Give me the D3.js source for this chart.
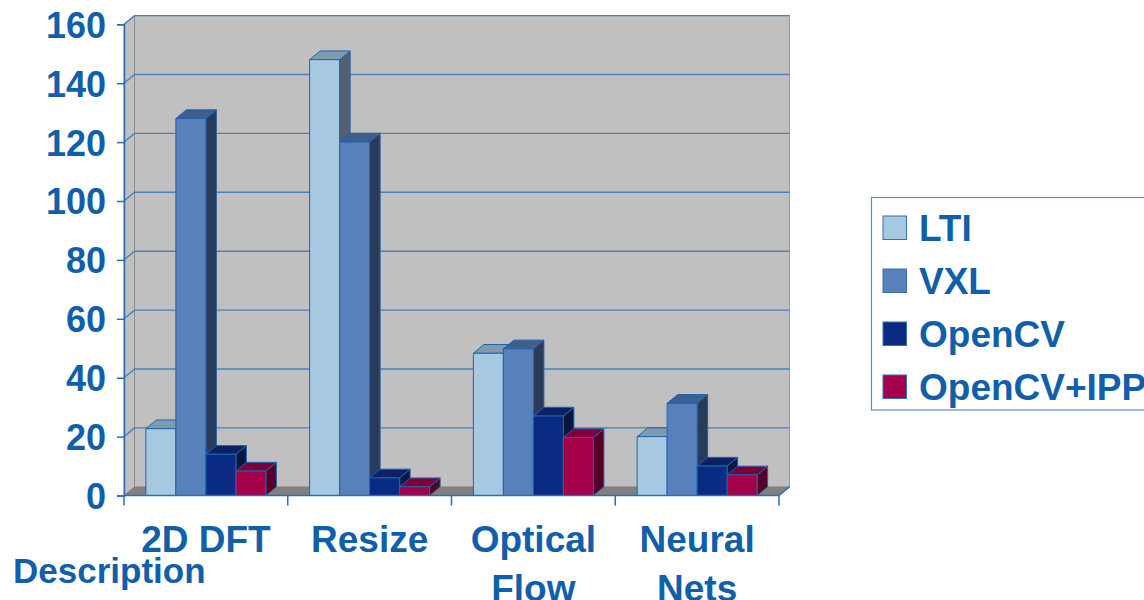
<!DOCTYPE html>
<html><head><meta charset="utf-8">
<script src="https://cdn.jsdelivr.net/npm/d3@7"></script>
<style>
html,body{margin:0;padding:0;background:#fff;overflow:hidden}
svg{display:block;font-family:"Liberation Sans",Arial,sans-serif;font-weight:bold}
</style></head>
<body>
<svg id="chart" width="1144" height="600"></svg>
<script>
const categories = ["2D DFT", "Resize", "Optical Flow", "Neural Nets"];
const categoryLines = [["2D DFT"], ["Resize"], ["Optical", "Flow"], ["Neural", "Nets"]];
const series = ["LTI", "VXL", "OpenCV", "OpenCV+IPP"];
const valuesLTI = [22.7, 148, 48.3, 20];
const valuesVXL = [128, 120, 49.8, 31.3];
const valuesOpenCV = [14, 6, 27, 10];
const valuesIPP = [8.3, 3, 19.7, 7];
const yTicks = [0, 20, 40, 60, 80, 100, 120, 140, 160];
const axisTitle = "Description";

const seriesValues = [valuesLTI, valuesVXL, valuesOpenCV, valuesIPP];
const faceColors = ["#a6c8e1", "#5881bb", "#0b2a83", "#a5004a"];
const topColors = ["#7f9bb0", "#3e5f8e", "#0a2163", "#7a0036"];
const sideColors = ["#52616d", "#2a3b5a", "#06173f", "#53002a"];
const textColor = "#125fa9";
const lineColor = "#2c6db2";

const svg = d3.select("#chart");
const DX = 10.5, DY = -8.7;

const y = d3.scaleLinear().domain([0, 160]).range([495.5, 24.3]);
const x = d3.scaleBand().domain(categories).range([124, 779]).padding(0);
const bw = x.bandwidth();
const groupW = bw * 0.733;
const xs = d3.scaleBand().domain(series).range([(bw - groupW) / 2, (bw + groupW) / 2]).padding(0);

const x0 = 124, x1 = 779, yb = y(0), yt = y(160);

// back wall
svg.append("rect").attr("x", x0 + DX).attr("y", yt + DY).attr("width", x1 - x0).attr("height", yb - yt)
  .attr("fill", "#c0c0c0").attr("stroke", "#9a9a9a").attr("stroke-width", 1);
// side wall
svg.append("path").attr("d", `M${x0},${yt}L${x0+DX},${yt+DY}L${x0+DX},${yb+DY}L${x0},${yb}Z`)
  .attr("fill", "#c0c0c0").attr("stroke", "#8c8c8c").attr("stroke-width", 1);
// floor
svg.append("path").attr("d", `M${x0},${yb}L${x0+DX},${yb+DY}L${x1+DX},${yb+DY}L${x1},${yb}Z`)
  .attr("fill", "#808080");

// gridlines
const grid = svg.append("g");
yTicks.filter(t => t > 0).forEach(t => {
  grid.append("path")
    .attr("d", `M${x0},${y(t)}L${x0+DX},${y(t)+DY}L${x1+DX},${y(t)+DY}`)
    .attr("fill", "none").attr("stroke", "#4b7fb9").attr("stroke-width", 1.4);
});

// bars
const bars = svg.append("g");
categories.forEach((c, ci) => {
  series.forEach((s, si) => {
    const v = seriesValues[si][ci];
    const bx = x(c) + xs(s), w = xs.bandwidth();
    const by = y(v);
    const g = bars.append("g").attr("stroke", "#2063ad").attr("stroke-width", 1).attr("stroke-linejoin", "round");
    g.append("path").attr("d", `M${bx+w},${by}L${bx+w+DX},${by+DY}L${bx+w+DX},${yb+DY}L${bx+w},${yb}Z`).attr("fill", sideColors[si]);
    g.append("path").attr("d", `M${bx},${by}L${bx+DX},${by+DY}L${bx+w+DX},${by+DY}L${bx+w},${by}Z`).attr("fill", topColors[si]);
    g.append("rect").attr("x", bx).attr("y", by).attr("width", w).attr("height", yb - by).attr("fill", faceColors[si]);
  });
});

// y axis
const yAxis = d3.axisLeft(y).tickValues(yTicks).tickSize(7).tickPadding(11).tickFormat(d3.format("d"));
const ya = svg.append("g").attr("transform", `translate(${x0},0)`).call(yAxis);
ya.select(".domain").attr("stroke", lineColor).attr("stroke-width", 1.5);
ya.selectAll(".tick line").attr("stroke", lineColor).attr("stroke-width", 1.5);
ya.selectAll(".tick text").attr("fill", textColor).attr("font-size", 36).attr("font-weight", "bold")
  .attr("font-family", '"Liberation Sans",Arial,sans-serif').attr("dy", "0.36em");

// x axis
svg.append("line").attr("x1", x0).attr("x2", x1).attr("y1", yb).attr("y2", yb).attr("stroke", lineColor).attr("stroke-width", 1.5);
svg.append("line").attr("x1", x1).attr("x2", x1 + DX).attr("y1", yb).attr("y2", yb + DY).attr("stroke", lineColor).attr("stroke-width", 1.5);
const bounds = categories.map(c => x(c)).concat([x1]);
svg.append("g").selectAll("line").data(bounds).join("line")
  .attr("x1", d => d).attr("x2", d => d).attr("y1", yb).attr("y2", yb + 10)
  .attr("stroke", lineColor).attr("stroke-width", 1.5);

const xl = svg.append("g");
categories.forEach((c, ci) => {
  const t = xl.append("text").attr("x", x(c) + bw / 2).attr("y", 551.5)
    .attr("text-anchor", "middle").attr("fill", textColor).attr("font-size", 37);
  categoryLines[ci].forEach((line, li) => {
    t.append("tspan").attr("x", x(c) + bw / 2).attr("dy", li === 0 ? 0 : 49.5).text(line);
  });
});

svg.append("text").attr("x", 13).attr("y", 583).attr("fill", textColor).attr("font-size", 35).text(axisTitle);

// legend
const lg = svg.append("g");
lg.append("rect").attr("x", 871.5).attr("y", 197.5).attr("width", 300).attr("height", 212.5)
  .attr("fill", "#fff").attr("stroke", "#5a8cc6").attr("stroke-width", 1.2);
series.forEach((s, si) => {
  const yy = 216 + si * 53;
  lg.append("rect").attr("x", 883).attr("y", yy).attr("width", 23.5).attr("height", 23.5)
    .attr("fill", faceColors[si]).attr("stroke", "#3a6fae").attr("stroke-width", 1);
  lg.append("text").attr("x", 919).attr("y", yy + 25).attr("fill", textColor).attr("font-size", 37).text(s);
});
</script>
</body></html>
